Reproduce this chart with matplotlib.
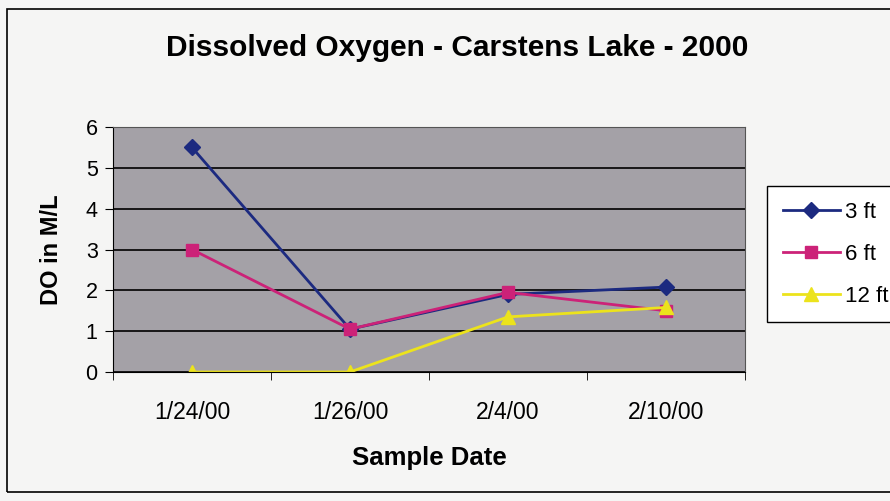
import matplotlib.pyplot as plt
from matplotlib.patches import Rectangle

dates = ['1/24/00', '1/26/00', '2/4/00', '2/10/00']
ft3 = [5.5, 1.05, 1.9, 2.08]
ft6 = [3.0, 1.05, 1.95, 1.5]
ft12 = [0.0, 0.0, 1.35, 1.58]

plt.rcParams['font.family'] = ['Liberation Sans', 'DejaVu Sans']

fig = plt.figure(figsize=(8.9, 5.01), dpi=100, facecolor='#f5f5f4')
ax = fig.add_axes([113 / 890, 129 / 501, 632 / 890, 245 / 501])
ax.set_facecolor('#a4a1a7')

x = range(len(dates))
ax.plot(x, ft3, color='#1c2a80', marker='D', markersize=8, lw=2, label='3 ft')
ax.plot(x, ft6, color='#cc2278', marker='s', markersize=9, lw=2, label='6 ft')
ax.plot(x, ft12, color='#ece31c', marker='^', markersize=10, lw=2, label='12 ft')

ax.set_xlim(-0.5, 3.5)
ax.set_ylim(0, 6)
ax.set_yticks(range(7))
ax.set_xticks(list(x))
ax.set_xticklabels(dates)
ax.set_xticks([-0.5, 0.5, 1.5, 2.5, 3.5], minor=True)
ax.tick_params(axis='x', which='major', length=0, labelsize=16.5, pad=21)
ax.tick_params(axis='x', which='minor', length=6, direction='out', color='black')
ax.tick_params(axis='y', length=6, direction='out', labelsize=15.5, pad=5)
ax.yaxis.grid(True, color='black', lw=1.2)
ax.set_axisbelow(True)
for s in ['left', 'bottom']:
    ax.spines[s].set_color('black')
for s in ['top', 'right']:
    ax.spines[s].set_color('#555555')

ax.set_xlabel('Sample Date', fontsize=18.5, fontweight='bold', labelpad=16)
ax.set_ylabel('DO in M/L', fontsize=17, fontweight='bold', labelpad=16)

fig.text(457 / 890, 1 - 48 / 501, 'Dissolved Oxygen - Carstens Lake - 2000',
         ha='center', va='center', fontsize=21.5, fontweight='bold')

leg = fig.legend(loc='upper left', bbox_to_anchor=(767 / 890, 1 - 186 / 501),
                 fontsize=16, frameon=True, fancybox=False, edgecolor='black',
                 facecolor='white', framealpha=1, handlelength=2.6,
                 borderpad=0.7, labelspacing=0.95, handletextpad=0.2,
                 borderaxespad=0)
leg.get_frame().set_linewidth(1)

fig.patches.append(Rectangle((7 / 890, 9 / 501), 1.0, 483 / 501,
                             transform=fig.transFigure, fill=False,
                             edgecolor='black', lw=1.2))

plt.savefig('out.png', dpi=100, facecolor=fig.get_facecolor())
